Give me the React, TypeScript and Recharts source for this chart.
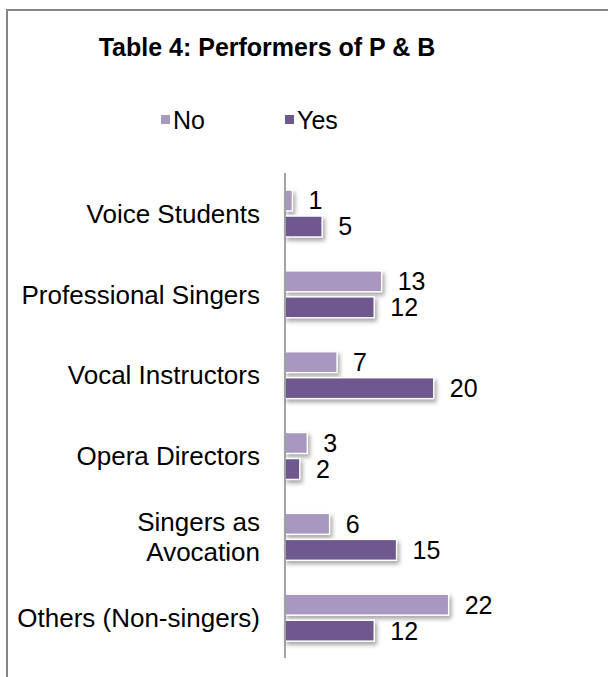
import React from "react";
import { BarChart, Bar, XAxis, YAxis, LabelList } from "recharts";

const categories = [
  "Voice Students",
  "Professional Singers",
  "Vocal Instructors",
  "Opera Directors",
  "Singers as Avocation",
  "Others (Non-singers)",
];
const noValues = [1, 13, 7, 3, 6, 22];
const yesValues = [5, 12, 20, 2, 15, 12];
const tickLines: string[][] = [
  ["Voice Students"],
  ["Professional Singers"],
  ["Vocal Instructors"],
  ["Opera Directors"],
  ["Singers as", "Avocation"],
  ["Others (Non-singers)"],
];
const seriesNames = ["No", "Yes"];
const title = "Table 4: Performers of P & B";

const COLOR_NO = "#A897BF";
const COLOR_YES = "#6F5890";
const FONT = "'Liberation Sans', Arial, sans-serif";

const data = categories.map((c, i) => ({ category: c, No: noValues[i], Yes: yesValues[i] }));

const CategoryTick = (props: any) => {
  const { x, y, payload } = props;
  const idx = categories.indexOf(payload.value);
  const lines = idx >= 0 ? tickLines[idx] : [String(payload.value)];
  const lh = 30;
  const start = y - ((lines.length - 1) * lh) / 2;
  return (
    <text x={x} y={start} textAnchor="end" fontSize={26} fontFamily={FONT} fill="#000">
      {lines.map((l, i) => (
        <tspan key={i} x={x} y={start + i * lh} dy="0.36em">
          {l}
        </tspan>
      ))}
    </text>
  );
};

const ShadowBar = (props: any) => {
  const { x, y, width, height, fill } = props;
  if (!width || width <= 0) return null;
  return (
    <rect
      x={x}
      y={y}
      width={width}
      height={height}
      fill={fill}
      stroke="#ffffff"
      strokeWidth={1.5}
      style={{ filter: "drop-shadow(2px 3px 2px rgba(0,0,0,0.35))" }}
    />
  );
};

export default function App() {
  return (
    <div style={{ position: "absolute", left: 0, top: 0, width: 608, height: 677, background: "#fff" }}>
      <BarChart
        width={608}
        height={677}
        data={data}
        layout="vertical"
        margin={{ top: 173, right: 137, bottom: 19, left: 0 }}
        barSize={21}
        barGap={5}
      >
        <XAxis type="number" domain={[0, 25]} hide />
        <YAxis
          type="category"
          dataKey="category"
          width={285}
          tickLine={false}
          tickSize={0}
          tickMargin={25}
          axisLine={{ stroke: "#868686", strokeWidth: 1.5 }}
          tick={<CategoryTick />}
          interval={0}
        />
        <Bar dataKey="No" fill={COLOR_NO} isAnimationActive={false} shape={<ShadowBar />}>
          <LabelList dataKey="No" position="right" offset={16} fontSize={25} fill="#000" fontFamily={FONT} />
        </Bar>
        <Bar dataKey="Yes" fill={COLOR_YES} isAnimationActive={false} shape={<ShadowBar />}>
          <LabelList dataKey="Yes" position="right" offset={16} fontSize={25} fill="#000" fontFamily={FONT} />
        </Bar>
      </BarChart>
      <svg
        width={608}
        height={677}
        style={{ position: "absolute", left: 0, top: 0, pointerEvents: "none" }}
      >
        <line x1={7} y1={10} x2={608} y2={10} stroke="#868686" strokeWidth={2} />
        <line x1={7} y1={9} x2={7} y2={677} stroke="#868686" strokeWidth={2} />
        <text x={267} y={56} textAnchor="middle" fontSize={25} fontWeight="bold" fontFamily={FONT} fill="#000">
          {title}
        </text>
        <rect x={161} y={115} width={9} height={9} fill={COLOR_NO} />
        <text x={173} y={129} fontSize={25} fontFamily={FONT} fill="#000">
          {seriesNames[0]}
        </text>
        <rect x={285} y={115} width={9} height={9} fill={COLOR_YES} />
        <text x={297} y={129} fontSize={25} fontFamily={FONT} fill="#000">
          {seriesNames[1]}
        </text>
      </svg>
    </div>
  );
}
